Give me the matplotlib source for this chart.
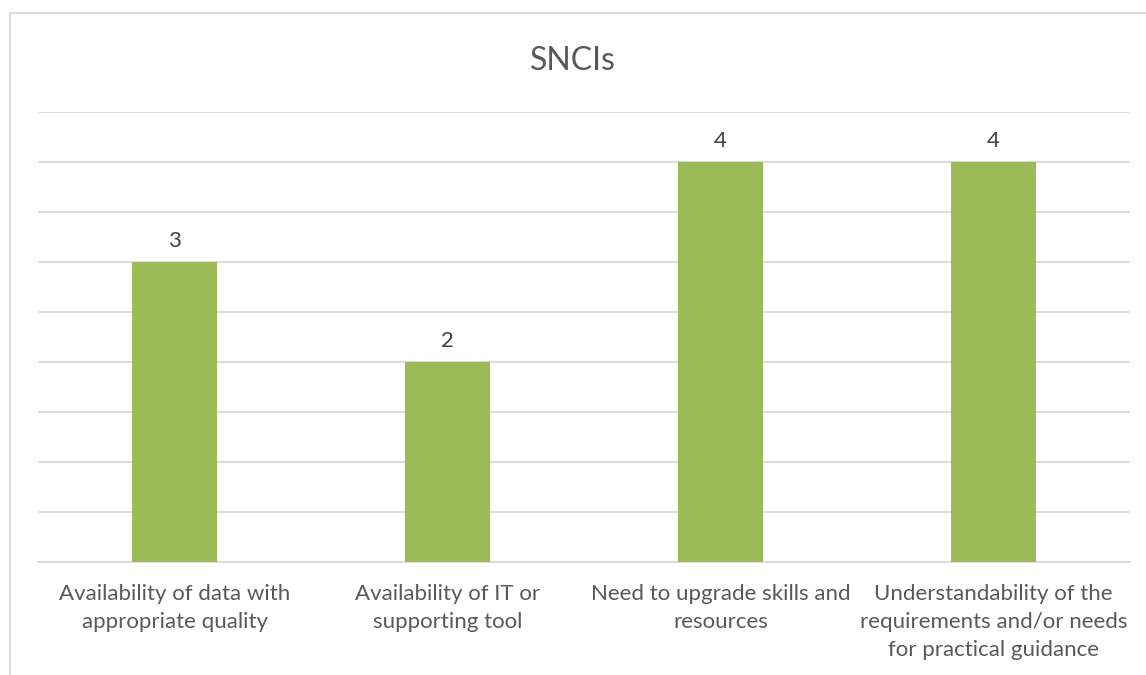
import matplotlib.pyplot as plt
from matplotlib.lines import Line2D

categories = ["Availability of data with\nappropriate quality",
              "Availability of IT or\nsupporting tool",
              "Need to upgrade skills and\nresources",
              "Understandability of the\nrequirements and/or needs\nfor practical guidance"]
values = [3, 2, 4, 4]

plt.rcParams['font.family'] = ['Lato', 'DejaVu Sans']

fig = plt.figure(figsize=(11.46, 6.75), dpi=100)
ax = fig.add_axes([38 / 1146, 113 / 675, 1092 / 1146, 450 / 675])

x = range(len(categories))
bars = ax.bar(x, values, width=0.31, color='#9BBB59', zorder=3)

ax.set_xlim(-0.5, len(categories) - 0.5)
ax.set_ylim(0, 4.5)
ax.set_yticks([i * 0.5 for i in range(10)])
ax.yaxis.grid(True, color='#D9D9D9', linewidth=1.3, zorder=0)
ax.tick_params(axis='y', left=False, labelleft=False)
ax.tick_params(axis='x', bottom=False, pad=12)
ax.set_xticks(list(x))
ax.set_xticklabels(categories, fontsize=16, color='#595959', linespacing=1.5)
for s in ['top', 'right', 'left']:
    ax.spines[s].set_visible(False)
ax.spines['bottom'].set_color('#D9D9D9')
ax.spines['bottom'].set_linewidth(1.3)

for b, v in zip(bars, values):
    ax.annotate(str(v), (b.get_x() + b.get_width() / 2, v), xytext=(0, 15),
                textcoords='offset points', ha='center', va='center',
                fontsize=16, color='#404040')

fig.text(0.5, (675 - 61) / 675, "SNCIs", ha='center', va='center', fontsize=23, color='#595959')

# chart border (only top and left visible in the crop)
fig.add_artist(Line2D([9.5 / 1146, 9.5 / 1146], [0, (675 - 13) / 675], color='#D9D9D9', linewidth=1.3))
fig.add_artist(Line2D([9.5 / 1146, 1], [(675 - 13) / 675, (675 - 13) / 675], color='#D9D9D9', linewidth=1.3))

fig.savefig("out.png", dpi=100)
